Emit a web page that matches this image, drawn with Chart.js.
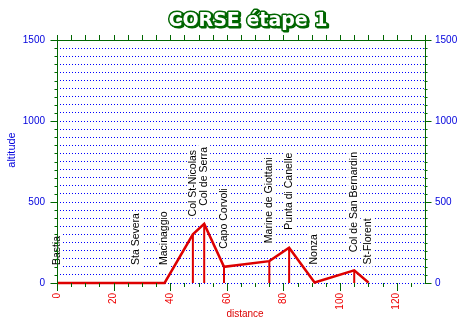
<!DOCTYPE html>
<html>
<head>
<meta charset="utf-8">
<script src="https://cdn.jsdelivr.net/npm/chart.js@4"></script>
<style>
  html, body { margin: 0; padding: 0; background: #fff; }
  #wrap { width: 463px; height: 326px; position: relative; }
</style>
</head>
<body>
<div id="wrap"><canvas id="c"></canvas></div>
<script>
// ---- данные профиля ----
const places    = ['Bastia', 'Sta Severa', 'Macinaggio', 'Col St-Nicolas', 'Col de Serra', 'Capo Corvoli',
                   'Marine de Giottani', 'Punta di Canelle', 'Nonza', 'Col de San Bernardin', 'St-Florent'];
const distances = [0, 28, 38, 48, 52, 59, 75, 82, 91, 105, 110];
const altitudes = [0, 0, 0, 300, 365, 100, 135, 218, 3, 78, 3];
const yLabels   = [0, 500, 1000, 1500];
const xLabels   = [0, 20, 40, 60, 80, 100, 120];

const GREEN = '#006600';
const RED = '#dd0000';
const BLUE = '#0000dd';
const FONT = '"Liberation Sans", Arial, sans-serif';

const profile = distances.map((d, i) => ({ x: d, y: altitudes[i] }));
// вертикальные линии от 0 до точки
const drops = [];
distances.forEach((d, i) => {
  drops.push({ x: d, y: 0 }, { x: d, y: altitudes[i] }, { x: d, y: null });
});

// засечки на осях (рисуем сами — разной длины) + левая ось сплошной линией
const tickMarks = {
  id: 'tickMarks',
  afterDraw(chart) {
    const ctx = chart.ctx, a = chart.chartArea;
    const { x, x2, y } = chart.scales;
    ctx.save();
    ctx.strokeStyle = GREEN;
    ctx.lineWidth = 1;
    const line = (x1, y1, xx, yy) => { ctx.beginPath(); ctx.moveTo(x1, y1); ctx.lineTo(xx, yy); ctx.stroke(); };
    const L = Math.round(a.left) + 0.5;
    const R = Math.round(a.right) - 0.5;
    line(L, a.top, L, a.bottom);
    y.ticks.forEach(t => {
      const p = Math.round(y.getPixelForValue(t.value)) + 0.5;
      const len = t.value % 500 === 0 ? 7 : 3;
      line(L - len, p, L, p);
      line(R, p, R + len, p);
    });
    x.ticks.forEach(t => {
      const p = Math.round(x.getPixelForValue(t.value)) + 0.5;
      if (t.value < 130) line(p, a.bottom, p, a.bottom + (t.value % 20 === 0 ? 8 : 4));
    });
    x2.ticks.forEach(t => {
      const p = Math.round(x2.getPixelForValue(t.value)) + 0.5;
      line(p, a.top - 5, p, a.top);
    });
    ctx.restore();
  }
};

// названия пунктов, заголовок и подписи осей
const texts = {
  id: 'texts',
  afterDatasetsDraw(chart) {
    const ctx = chart.ctx, a = chart.chartArea;
    const { x, y } = chart.scales;
    ctx.save();
    ctx.font = '10.5px ' + FONT;
    ctx.textBaseline = 'middle';
    ctx.textAlign = 'left';
    places.forEach((name, i) => {
      const px = x.getPixelForValue(distances[i]);
      const py = y.getPixelForValue(altitudes[i]) - 18;
      const w = ctx.measureText(name).width;
      ctx.fillStyle = '#fff';
      ctx.fillRect(px - 6, py - w - 2, 12, w + 4);
      ctx.save();
      ctx.translate(px, py);
      ctx.rotate(-Math.PI / 2);
      ctx.fillStyle = '#000';
      ctx.fillText(name, 0, 0);
      ctx.restore();
    });

    // подписи осей
    ctx.textAlign = 'center';
    ctx.fillStyle = RED;
    ctx.font = '10px ' + FONT;
    ctx.fillText('distance', (a.left + a.right) / 2 + 4, 314);
    ctx.save();
    ctx.translate(12, 150);
    ctx.rotate(-Math.PI / 2);
    ctx.fillStyle = BLUE;
    ctx.font = '11px ' + FONT;
    ctx.fillText('altitude', 0, 0);
    ctx.restore();

    // заголовок
    const tx = 248, ty = 21;
    ctx.font = 'bold 19px "DejaVu Sans", sans-serif';
    ctx.lineJoin = 'round';
    ctx.fillStyle = GREEN;
    ctx.strokeStyle = GREEN;
    ctx.lineWidth = 3;
    ctx.strokeText('CORSE étape 1', tx + 1.5, ty + 1.5);
    ctx.strokeText('CORSE étape 1', tx, ty);
    ctx.fillStyle = '#fff';
    ctx.fillText('CORSE étape 1', tx, ty);
    ctx.restore();
  }
};

new Chart(document.getElementById('c'), {
  type: 'line',
  data: {
    datasets: [
      { data: profile, borderColor: RED, borderWidth: 2.5, pointRadius: 0, tension: 0, clip: false },
      { data: drops, borderColor: RED, borderWidth: 2, pointRadius: 0, tension: 0, spanGaps: false, clip: false }
    ]
  },
  options: {
    responsive: true,
    maintainAspectRatio: false,
    animation: false,
    layout: { padding: 0 },
    plugins: { legend: { display: false }, tooltip: { enabled: false } },
    scales: {
      x: {
        type: 'linear', position: 'bottom', min: 0, max: 130,
        afterFit: s => { s.height = 43; },
        grid: { drawOnChartArea: false, drawTicks: false },
        border: { display: false },
        ticks: {
          stepSize: 5, padding: 10, minRotation: 90, maxRotation: 90, autoSkip: false,
          color: '#ee0000', font: { size: 10, family: FONT },
          callback: v => xLabels.includes(v) ? String(v) : ''
        }
      },
      x2: {
        type: 'linear', position: 'top', min: 0, max: 130,
        afterFit: s => { s.height = 40; },
        grid: { drawOnChartArea: false, drawTicks: false },
        border: { display: true, color: GREEN, width: 1 },
        ticks: { stepSize: 5, display: false }
      },
      y: {
        type: 'linear', position: 'left', min: 0, max: 1500,
        afterFit: s => { s.width = 57; },
        grid: {
          drawTicks: false,
          color: ctx => ctx.tick && ctx.tick.value === 1500 ? 'rgba(0,0,0,0)' : '#0000ff'
        },
        border: { display: false, dash: [1, 2] },
        ticks: {
          stepSize: 50, padding: 12, autoSkip: false,
          color: BLUE, font: { size: 10, family: FONT },
          callback: v => yLabels.includes(v) ? String(v) : ''
        }
      },
      y2: {
        type: 'linear', position: 'right', min: 0, max: 1500,
        afterFit: s => { s.width = 38; },
        grid: { drawOnChartArea: false, drawTicks: false },
        border: { display: true, color: GREEN, width: 1 },
        ticks: {
          stepSize: 50, padding: 10, autoSkip: false,
          color: BLUE, font: { size: 10, family: FONT },
          callback: v => yLabels.includes(v) ? String(v) : ''
        }
      }
    }
  },
  plugins: [tickMarks, texts]
});
</script>
</body>
</html>
